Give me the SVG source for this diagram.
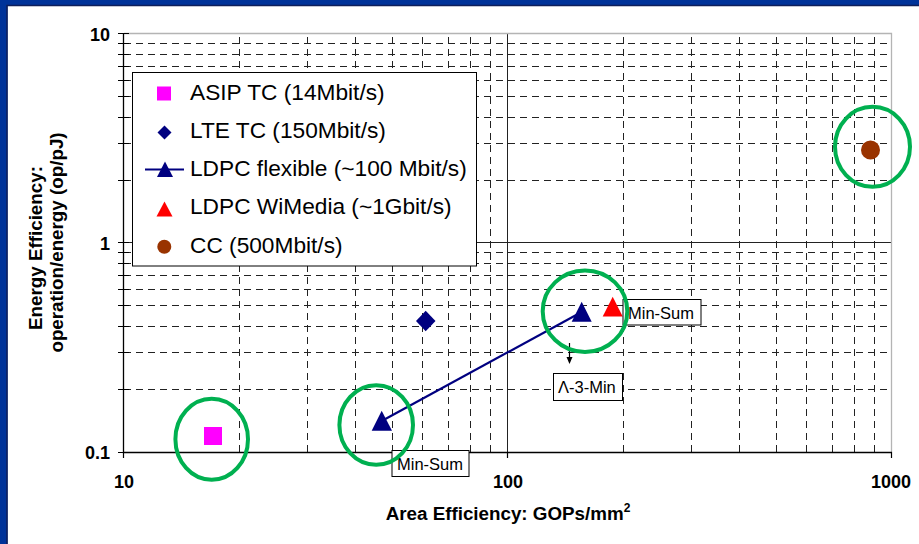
<svg xmlns="http://www.w3.org/2000/svg" width="919" height="544" viewBox="0 0 919 544">
  <style>
    .grid{fill:none;stroke:#222;stroke-width:1;stroke-dasharray:7 5}
    .major{fill:none;stroke:#222;stroke-width:1}
    .axis{fill:none;stroke:#000;stroke-width:1.3}
    .frame{fill:none;stroke:#b4b4b4;stroke-width:1.3}
    .tick{fill:none;stroke:#000;stroke-width:1.2}
    .num{font-family:"Liberation Sans",Arial,sans-serif;font-weight:bold;font-size:18px;fill:#000}
    .title{font-family:"Liberation Sans",Arial,sans-serif;font-weight:bold;font-size:18.8px;fill:#000}
    .leg{font-family:"Liberation Sans",Arial,sans-serif;font-size:22.7px;fill:#000}
    .note{font-family:"Liberation Sans",Arial,sans-serif;font-size:16.5px;fill:#000}
    .box{fill:#fff;stroke:#000;stroke-width:1}
    .ring{fill:none;stroke:#00b050;stroke-width:4}
    .navy{fill:#000080}
    .magenta{fill:#ff00ff}
    .red{fill:#ff0000}
    .brown{fill:#993300}
  </style>

  <!-- slide frame -->
  <g id="background">
    <rect x="0" y="0" width="919" height="544" fill="#003399"/>
    <rect x="7.5" y="6" width="912" height="538" fill="#fff"/>
    <path d="M7 544V5.5H919" fill="none" stroke="#0f1f5a" stroke-width="1.5"/>
  </g>

  <!-- log-log plot area: x 10..1000 -> 124..892, y 0.1..10 -> 452..33.5 -->
  <g id="plot-grid">
    <path class="grid" d="M239.5 452V33.5M307.5 452V33.5M355.5 452V33.5M392.5 452V33.5M422.5 452V33.5M448.5 452V33.5M470.5 452V33.5M490.5 452V33.5
      M623.5 452V33.5M691.5 452V33.5M739.5 452V33.5M776.5 452V33.5M806.5 452V33.5M832.5 452V33.5M854.5 452V33.5M874.5 452V33.5"/>
    <path class="grid" d="M124 389.5H892M124 352.5H892M124 326.5H892M124 305.5H892M124 289.5H892M124 275.5H892M124 263.5H892M124 252.5H892
      M124 180.5H892M124 143.5H892M124 117.5H892M124 96.5H892M124 80.5H892M124 66.5H892M124 54.5H892M124 43.5H892"/>
    <path class="major" d="M507.5 452V33.5M124 242.5H892"/>
    <path class="frame" d="M124 33.5H891.5V452"/>
  </g>

  <g id="axes">
    <path class="axis" d="M123.5 33.5V452.5H892"/>
    <!-- y ticks (major and minor) -->
    <path class="tick" d="M118 33.5H129M118 43.5H129M118 54.5H129M118 66.5H129M118 80.5H129M118 96.5H129M118 117.5H129M118 143.5H129M118 180.5H129
      M118 242.5H129M118 252.5H129M118 263.5H129M118 275.5H129M118 289.5H129M118 305.5H129M118 326.5H129M118 352.5H129M118 389.5H129M118 452.5H129"/>
    <!-- x ticks (major) -->
    <path class="tick" d="M123.5 452V458M507.5 452V458M891.5 452V458"/>
    <text class="num" x="110" y="41" text-anchor="end">10</text>
    <text class="num" x="110" y="250" text-anchor="end">1</text>
    <text class="num" x="110" y="459" text-anchor="end">0.1</text>
    <text class="num" x="124" y="488" text-anchor="middle">10</text>
    <text class="num" x="508" y="488" text-anchor="middle">100</text>
    <text class="num" x="891" y="488" text-anchor="middle">1000</text>
    <text class="title" x="508" y="520" text-anchor="middle">Area Efficiency: GOPs/mm<tspan font-size="12" dy="-8">2</tspan></text>
    <text class="title" transform="translate(41.7,248) rotate(-90)" text-anchor="middle">Energy Efficiency:</text>
    <text class="title" transform="translate(63,242.5) rotate(-90)" text-anchor="middle">operation/energy (op/pJ)</text>
  </g>

  <g id="legend">
    <rect class="box" x="132.5" y="72.5" width="344" height="193.5"/>
    <rect class="magenta" x="157" y="86.5" width="14" height="14"/>
    <text class="leg" x="190" y="99.5">ASIP TC (14Mbit/s)</text>
    <polygon class="navy" points="164.5,125.5 171.5,132.5 164.5,139.5 157.5,132.5"/>
    <text class="leg" x="190" y="137.8">LTE TC (150Mbit/s)</text>
    <line x1="145" y1="169.5" x2="184" y2="169.5" stroke="#000080" stroke-width="2"/>
    <polygon class="navy" points="165,161.5 173,177 157,177"/>
    <text class="leg" x="190" y="176.1">LDPC flexible (~100 Mbit/s)</text>
    <polygon class="red" points="164.5,201.5 172.5,216.5 156.5,216.5"/>
    <text class="leg" x="190" y="214.4">LDPC WiMedia (~1Gbit/s)</text>
    <circle class="brown" cx="164.3" cy="246.7" r="7"/>
    <text class="leg" x="190" y="252.7">CC (500Mbit/s)</text>
  </g>

  <!-- connectors -->
  <g id="connectors">
    <line id="ldpc-flexible-line" x1="381.7" y1="421" x2="581.7" y2="312" stroke="#000080" stroke-width="2.2"/>
    <g id="lambda-arrow">
      <line x1="569.5" y1="343" x2="569.5" y2="358" stroke="#000" stroke-width="1.2"/>
      <polygon points="566.5,357 572.5,357 569.5,364" fill="#000"/>
    </g>
  </g>

  <!-- data points -->
  <g id="asip-tc">
    <rect class="magenta" x="204" y="427" width="18" height="18"/>
  </g>
  <g id="lte-tc">
    <polygon class="navy" points="425.7,310.7 435.5,321 425.7,331.3 416,321"/>
  </g>
  <g id="ldpc-flexible-minsum">
    <polygon class="navy" points="381.7,410.7 392,430.7 371.7,430.7"/>
  </g>
  <g id="ldpc-flexible-l3min">
    <polygon class="navy" points="581.7,301.7 591.7,321.7 571.7,321.7"/>
  </g>
  <g id="ldpc-wimedia">
    <polygon class="red" points="612.7,296.7 622.7,316.5 602.7,316.5"/>
  </g>
  <g id="cc">
    <circle class="brown" cx="870.5" cy="150" r="9.5"/>
  </g>

  <!-- annotation labels -->
  <g id="label-minsum-top">
    <rect class="box" x="623" y="299.5" width="78" height="25.5"/>
    <text class="note" x="628" y="319">Min-Sum</text>
  </g>
  <g id="label-lambda-3-min">
    <rect class="box" x="553.5" y="373.5" width="69" height="27"/>
    <text class="note" x="558" y="393">Λ-3-Min</text>
  </g>
  <g id="label-minsum-bottom">
    <rect class="box" x="392" y="450.5" width="77" height="26"/>
    <text class="note" x="397" y="470">Min-Sum</text>
  </g>

  <!-- highlight rings -->
  <g id="rings">
    <ellipse class="ring" cx="211.7" cy="439.2" rx="36.3" ry="40.5"/>
    <ellipse class="ring" cx="376.2" cy="425" rx="36.8" ry="39.7"/>
    <ellipse class="ring" cx="585" cy="311.2" rx="42.3" ry="40.8"/>
    <ellipse class="ring" cx="872.5" cy="146.8" rx="37.5" ry="40"/>
  </g>
</svg>
